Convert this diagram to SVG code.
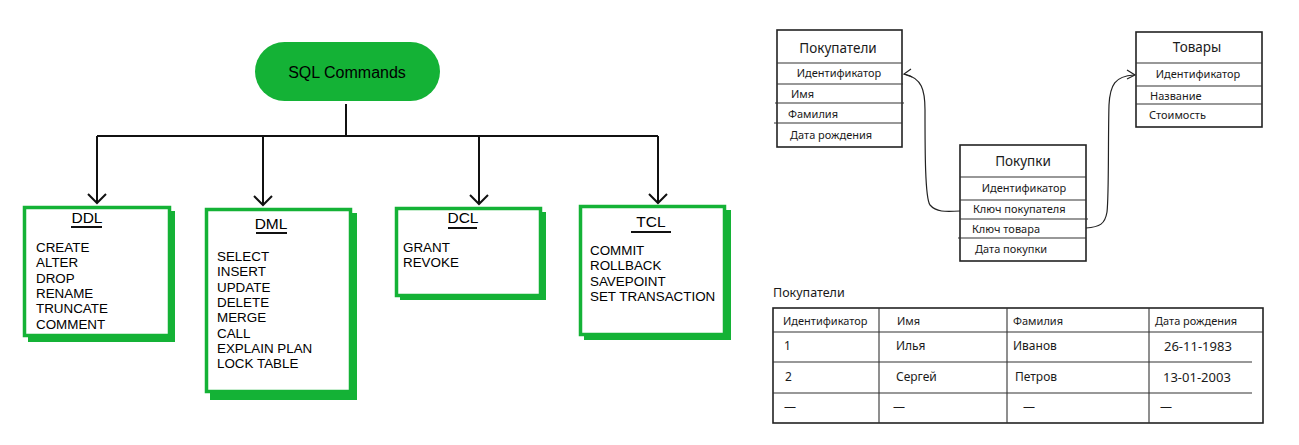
<svg xmlns="http://www.w3.org/2000/svg" width="1299" height="445" viewBox="0 0 1299 445">
<style>
.bg{fill:#fff}
.sh{fill:#14b236}
.bx{fill:#fff;stroke:#14b236;stroke-width:3.5}
.t{font-family:"Liberation Sans",Arial,sans-serif;fill:#000}
.it{font-size:13.4px}
.ti{font-size:15.5px;text-anchor:middle}
.ul{stroke:#111;stroke-width:2}
.ln{fill:none;stroke:#111;stroke-width:2}
.h{font-family:"Noto Sans","DejaVu Sans",sans-serif;fill:#1a1a1a}
.hr{font-size:11px}
.hh{font-size:13.5px;text-anchor:middle}
.tb{fill:#fff;stroke:#222;stroke-width:1.6}
.tl{stroke:#333;stroke-width:1.1}
.cv{fill:none;stroke:#222;stroke-width:1.2}
</style>
<rect class="bg" x="0" y="0" width="1299" height="445"/>

<g id="sql-commands">
<rect x="255" y="42" width="185" height="59" rx="29.5" fill="#14b236"/>
<text class="t" x="347" y="78" font-size="16" text-anchor="middle">SQL Commands</text>
</g>

<g id="connectors-left">
<path class="ln" d="M346 104V136M97 136H658M97 136V203M263 136V205M479 136V204M658 136V203"/>
<path class="ln" d="M88 194L97 203L106 194M254 196L263 205L272 196M470 195L479 204L488 195M649 194L658 203L667 194"/>
</g>

<g id="ddl">
<rect class="sh" x="28" y="211" width="147" height="131"/>
<rect class="bx" x="24.5" y="207.5" width="145" height="128"/>
<text class="t ti" x="87" y="223">DDL</text>
<line class="ul" x1="71" y1="227" x2="102" y2="227"/>
<text class="t it"><tspan x="36" y="252">CREATE</tspan><tspan x="36" y="267.3">ALTER</tspan><tspan x="36" y="282.6">DROP</tspan><tspan x="36" y="297.9">RENAME</tspan><tspan x="36" y="313.2">TRUNCATE</tspan><tspan x="36" y="328.5">COMMENT</tspan></text>
</g>

<g id="dml">
<rect class="sh" x="210" y="213" width="147" height="187"/>
<rect class="bx" x="206.5" y="209.5" width="144" height="182"/>
<text class="t ti" x="271" y="229">DML</text>
<line class="ul" x1="256" y1="233" x2="287" y2="233"/>
<text class="t it"><tspan x="217" y="261">SELECT</tspan><tspan x="217" y="276.3">INSERT</tspan><tspan x="217" y="291.6">UPDATE</tspan><tspan x="217" y="306.9">DELETE</tspan><tspan x="217" y="322.2">MERGE</tspan><tspan x="217" y="337.5">CALL</tspan><tspan x="217" y="352.8">EXPLAIN PLAN</tspan><tspan x="217" y="368.1">LOCK TABLE</tspan></text>
</g>

<g id="dcl">
<rect class="sh" x="400" y="212" width="146" height="88"/>
<rect class="bx" x="396.5" y="208.5" width="144" height="87"/>
<text class="t ti" x="463" y="223">DCL</text>
<line class="ul" x1="448" y1="228" x2="477" y2="228"/>
<text class="t it"><tspan x="403" y="252">GRANT</tspan><tspan x="403" y="267.3">REVOKE</tspan></text>
</g>

<g id="tcl">
<rect class="sh" x="584" y="210" width="147" height="130"/>
<rect class="bx" x="580.5" y="206.5" width="144" height="128"/>
<text class="t ti" x="651" y="227">TCL</text>
<line class="ul" x1="631" y1="232" x2="671" y2="232"/>
<text class="t it"><tspan x="590" y="255">COMMIT</tspan><tspan x="590" y="270.3">ROLLBACK</tspan><tspan x="590" y="285.6">SAVEPOINT</tspan><tspan x="590" y="300.9">SET TRANSACTION</tspan></text>
</g>

<g id="pokupateli">
<rect class="tb" x="777" y="30" width="125" height="117"/>
<line class="tl" x1="777" y1="63" x2="902" y2="63" stroke-width="1.5"/>
<line class="tl" x1="777" y1="84" x2="903" y2="84"/>
<line class="tl" x1="775" y1="103" x2="904" y2="103"/>
<line class="tl" x1="774" y1="123" x2="902" y2="123"/>
<text class="h hh" x="838" y="53">Покупатели</text>
<text class="h hr" x="839" y="77" text-anchor="middle">Идентификатор</text>
<text class="h hr" x="791" y="98">Имя</text>
<text class="h hr" x="788" y="118">Фамилия</text>
<text class="h hr" x="790" y="139">Дата рождения</text>
</g>

<g id="tovary">
<rect class="tb" x="1136" y="32" width="126" height="95"/>
<line class="tl" x1="1136" y1="63" x2="1262" y2="63" stroke-width="1.5"/>
<line class="tl" x1="1136" y1="86" x2="1262" y2="86"/>
<line class="tl" x1="1136" y1="104" x2="1262" y2="104"/>
<text class="h hh" x="1197" y="52">Товары</text>
<text class="h hr" x="1198" y="78" text-anchor="middle">Идентификатор</text>
<text class="h hr" x="1150" y="100">Название</text>
<text class="h hr" x="1149" y="119">Стоимость</text>
</g>

<g id="pokupki">
<rect class="tb" x="960" y="145" width="126" height="116"/>
<line class="tl" x1="960" y1="177" x2="1086" y2="177" stroke-width="1.5"/>
<line class="tl" x1="960" y1="200" x2="1086" y2="200"/>
<line class="tl" x1="960" y1="219" x2="1088" y2="219"/>
<line class="tl" x1="958" y1="238" x2="1086" y2="238"/>
<text class="h hh" x="1023" y="166">Покупки</text>
<text class="h hr" x="1024" y="192" text-anchor="middle">Идентификатор</text>
<text class="h hr" x="973" y="213">Ключ покупателя</text>
<text class="h hr" x="972" y="233">Ключ товара</text>
<text class="h hr" x="975" y="253">Дата покупки</text>
</g>

<g id="connectors-right">
<path class="cv" d="M960 211C945 212 936 212 930 205C925 198 925 150 925 110C925 90 922 78 904 74"/>
<path class="cv" d="M911 69L904 74L912 77"/>
<path class="cv" d="M1086 228C1100 227 1105 224 1107 212C1109 195 1108 140 1109 105C1110 85 1115 76 1134 75"/>
<path class="cv" d="M1127 70L1135 75L1127 79"/>
</g>

<g id="pokupateli-table">
<text class="h" x="773" y="297" font-size="12.5">Покупатели</text>
<rect class="tb" x="773" y="308" width="490" height="115"/>
<line class="tl" x1="879" y1="308" x2="879" y2="423"/>
<line class="tl" x1="1007" y1="308" x2="1007" y2="423"/>
<line class="tl" x1="1149" y1="308" x2="1149" y2="423"/>
<line class="tl" x1="773" y1="332" x2="1263" y2="332" stroke-width="1.5"/>
<line class="tl" x1="773" y1="362" x2="1252" y2="362" stroke-width="1.5"/>
<line class="tl" x1="773" y1="393" x2="1252" y2="393" stroke-width="1.5"/>
<text class="h hr"><tspan x="783" y="325">Идентификатор</tspan><tspan x="897" y="325">Имя</tspan><tspan x="1013" y="325">Фамилия</tspan><tspan x="1155" y="325">Дата рождения</tspan></text>
<text class="h" font-size="12"><tspan x="784" y="350">1</tspan><tspan x="896" y="350">Илья</tspan><tspan x="1013" y="350">Иванов</tspan></text>
<text class="h" font-size="13"><tspan x="1164" y="351">26-11-1983</tspan></text>
<text class="h" font-size="12"><tspan x="785" y="381">2</tspan><tspan x="896" y="381">Сергей</tspan><tspan x="1015" y="381">Петров</tspan></text>
<text class="h" font-size="13"><tspan x="1163" y="382">13-01-2003</tspan></text>
<text class="h" font-size="12"><tspan x="784" y="411">—</tspan><tspan x="893" y="411">—</tspan><tspan x="1023" y="411">—</tspan><tspan x="1160" y="411">—</tspan></text>
</g>
</svg>
